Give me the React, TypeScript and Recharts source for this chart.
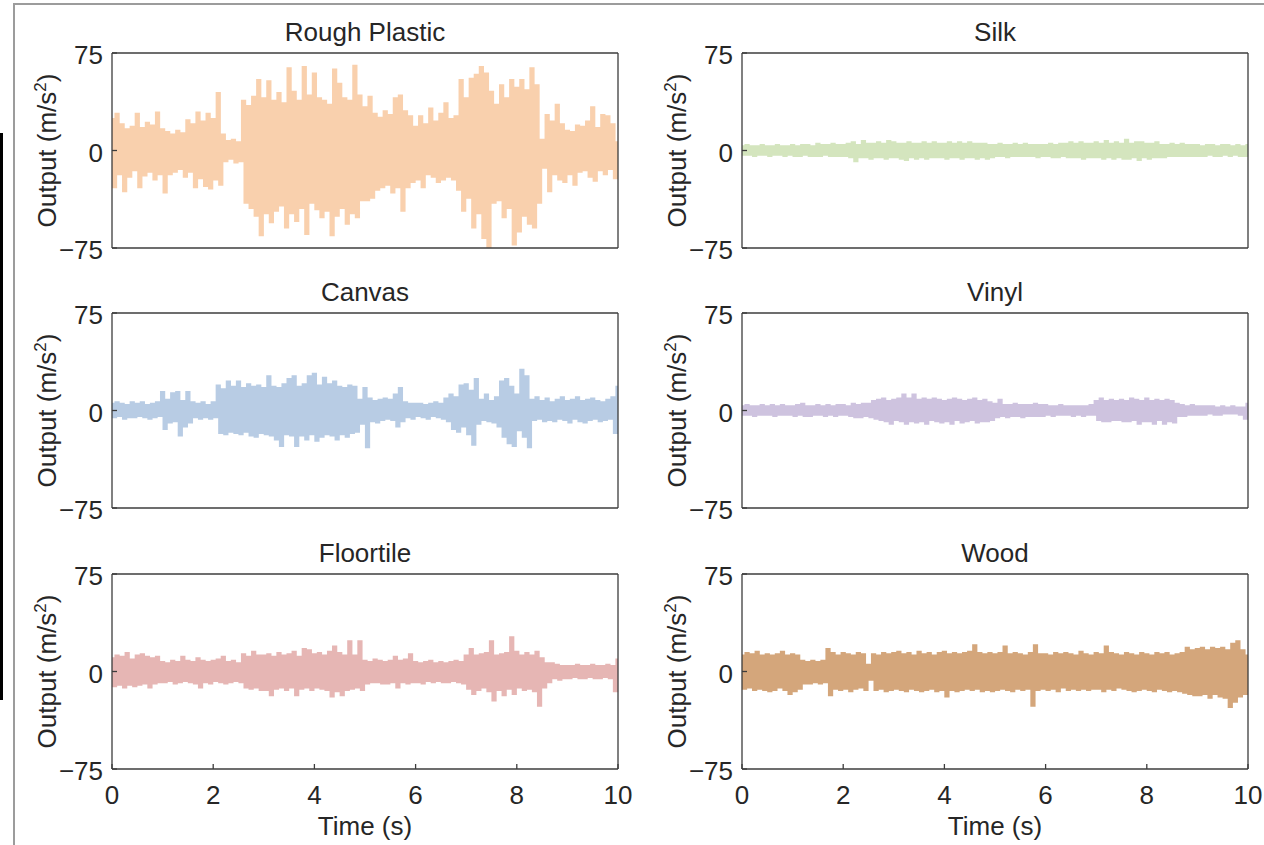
import React from 'react';
import { LineChart, Line, XAxis, YAxis } from 'recharts';

// ---- axes ----
const xTicks = [0, 2, 4, 6, 8, 10];
const yTicks = [-75, 0, 75];
const duration = 10; // seconds, samples evenly spaced over [0, 10]

// ---- series (m/s^2), one sample every 0.05 s ----
const roughPlastic = [
  24, -28, 28, -18, 20, -31, 16, -20, 18, -15, 28, -28, 17, -19, 21, -16, 19, -22, 29, -18,
  16, -32, 14, -18, 12, -16, 15, -14, 13, -20, 23, -16, 20, -28, 29, -21, 22, -27, 28, -29,
  24, -22, 44, -26, 12, -8, 7, -6, 8, -9, 6, -8, 38, -40, 34, -44, 41, -50, 54, -65,
  40, -48, 53, -55, 38, -46, 44, -42, 36, -59, 63, -48, 45, -54, 38, -44, 64, -64, 42, -40,
  59, -45, 40, -51, 38, -46, 35, -65, 62, -50, 51, -44, 40, -56, 38, -48, 65, -51, 42, -38,
  33, -38, 41, -36, 28, -30, 25, -28, 30, -26, 27, -32, 40, -28, 42, -46, 30, -28, 26, -24,
  18, -22, 26, -28, 20, -18, 32, -20, 22, -24, 28, -22, 36, -20, 24, -22, 26, -30, 54, -46,
  40, -36, 55, -59, 58, -48, 64, -67, 59, -74, 45, -40, 35, -38, 50, -51, 40, -44, 54, -72,
  48, -62, 54, -50, 46, -56, 63, -59, 50, -40, 8, -13, 27, -31, 22, -18, 35, -22, 20, -24,
  15, -18, 14, -26, 19, -16, 18, -15, 22, -20, 33, -23, 17, -15, 27, -18, 26, -14, 20, -21,
  6,
];

const silk = [
  3, -3, 4, -3, 3, -4, 3, -3, 4, -3, 3, -4, 3, -3, 4, -3, 3, -4, 3, -3,
  4, -4, 3, -4, 4, -3, 4, -4, 3, -4, 5, -4, 4, -3, 4, -4, 5, -4, 4, -4,
  4, -4, 5, -5, 6, -8, 4, -5, 7, -5, 5, -6, 5, -5, 6, -5, 5, -6, 7, -5,
  6, -5, 5, -6, 5, -7, 6, -5, 5, -6, 5, -5, 6, -6, 5, -5, 6, -5, 5, -5,
  5, -6, 6, -5, 5, -5, 6, -6, 5, -5, 6, -5, 5, -6, 5, -5, 5, -6, 4, -5,
  4, -4, 5, -4, 4, -5, 4, -4, 5, -4, 4, -4, 5, -4, 4, -4, 4, -5, 4, -4,
  4, -4, 5, -5, 4, -5, 5, -4, 5, -5, 6, -5, 5, -5, 6, -6, 5, -5, 5, -5,
  6, -5, 5, -6, 7, -5, 5, -6, 6, -5, 5, -6, 8, -6, 5, -5, 6, -7, 6, -5,
  5, -6, 5, -5, 6, -5, 4, -5, 4, -4, 5, -4, 4, -4, 5, -4, 4, -4, 4, -4,
  4, -4, 3, -4, 4, -3, 4, -4, 3, -4, 4, -3, 4, -4, 3, -3, 4, -4, 3, -4,
  4,
];

const canvas = [
  5, -5, 6, -4, 5, -6, 4, -5, 6, -5, 5, -4, 6, -5, 4, -6, 5, -5, 6, -4,
  14, -14, 8, -9, 13, -8, 14, -19, 7, -12, 14, -9, 6, -5, 5, -6, 6, -5, 4, -6,
  6, -5, 19, -17, 16, -18, 22, -16, 18, -17, 22, -18, 17, -16, 20, -19, 18, -20, 19, -17,
  17, -18, 26, -19, 18, -22, 17, -27, 20, -18, 24, -19, 26, -27, 18, -19, 20, -22, 26, -18,
  28, -23, 19, -20, 25, -18, 20, -19, 22, -22, 18, -18, 17, -20, 19, -17, 18, -16, 8, -10,
  17, -28, 9, -8, 7, -9, 8, -7, 9, -6, 8, -7, 12, -12, 17, -8, 6, -5, 5, -6,
  5, -4, 5, -5, 4, -6, 5, -4, 6, -5, 5, -6, 9, -8, 12, -14, 10, -16, 19, -12,
  20, -18, 15, -26, 24, -10, 8, -7, 12, -8, 7, -9, 10, -12, 22, -20, 24, -25, 18, -27,
  12, -15, 31, -20, 26, -28, 8, -7, 10, -6, 7, -8, 9, -7, 6, -8, 8, -6, 10, -7,
  7, -9, 8, -6, 10, -8, 7, -9, 8, -7, 9, -6, 7, -8, 6, -7, 8, -6, 10, -17,
  18,
];

const vinyl = [
  3, -3, 4, -3, 3, -4, 3, -3, 4, -3, 3, -3, 4, -4, 3, -3, 4, -3, 3, -3,
  3, -4, 4, -3, 5, -4, 3, -4, 3, -3, 4, -3, 3, -4, 4, -3, 3, -4, 4, -3,
  4, -3, 3, -4, 5, -5, 4, -5, 5, -4, 5, -5, 7, -6, 8, -7, 9, -8, 7, -10,
  8, -7, 9, -8, 12, -10, 9, -8, 12, -9, 8, -8, 9, -10, 8, -7, 9, -8, 8, -9,
  7, -8, 8, -10, 9, -7, 8, -9, 7, -8, 8, -7, 9, -9, 7, -8, 8, -8, 6, -7,
  5, -5, 8, -4, 4, -5, 4, -4, 5, -4, 4, -5, 4, -4, 4, -4, 5, -4, 4, -4,
  4, -3, 3, -4, 3, -3, 4, -3, 3, -3, 3, -4, 3, -3, 3, -4, 3, -3, 4, -3,
  7, -7, 9, -8, 7, -8, 8, -7, 7, -7, 8, -8, 7, -8, 9, -7, 8, -10, 7, -8,
  9, -8, 7, -10, 8, -7, 7, -10, 8, -8, 7, -9, 5, -4, 4, -4, 3, -3, 4, -3,
  3, -3, 3, -3, 3, -2, 3, -3, 2, -3, 3, -2, 2, -2, 3, -2, 2, -3, 2, -6,
  5,
];

const floortile = [
  10, -11, 12, -10, 11, -12, 14, -10, 9, -11, 12, -10, 13, -9, 11, -12, 10, -9, 11, -8,
  7, -8, 6, -7, 8, -9, 7, -8, 11, -7, 8, -8, 7, -9, 10, -12, 8, -8, 7, -9,
  8, -7, 9, -8, 11, -9, 7, -8, 8, -7, 6, -8, 13, -12, 11, -13, 15, -12, 12, -14,
  12, -14, 13, -18, 11, -13, 14, -12, 12, -14, 13, -12, 15, -18, 11, -13, 17, -12, 16, -14,
  13, -12, 14, -13, 12, -14, 15, -19, 19, -15, 14, -18, 12, -14, 23, -13, 12, -12, 23, -14,
  8, -9, 7, -8, 9, -8, 8, -9, 7, -9, 8, -8, 11, -12, 8, -8, 9, -9, 13, -8,
  7, -8, 6, -9, 7, -7, 8, -8, 6, -7, 7, -8, 6, -8, 7, -7, 8, -8, 7, -9,
  12, -13, 17, -17, 12, -14, 13, -12, 14, -15, 23, -22, 12, -14, 13, -18, 14, -13, 26, -17,
  15, -12, 12, -14, 14, -13, 12, -15, 15, -26, 10, -12, 6, -8, 6, -5, 5, -6, 4, -5,
  4, -5, 4, -4, 5, -5, 4, -5, 4, -4, 5, -5, 4, -5, 4, -4, 5, -5, 4, -15,
  9,
];

const wood = [
  12, -13, 14, -12, 13, -14, 15, -13, 12, -14, 13, -15, 12, -14, 13, -12, 15, -14, 12, -17,
  13, -15, 12, -13, 8, -9, 7, -9, 8, -8, 7, -9, 8, -8, 17, -18, 14, -13, 12, -14,
  14, -13, 13, -15, 12, -13, 14, -12, 13, -14, 5, -6, 13, -14, 12, -13, 14, -15, 13, -14,
  14, -13, 15, -14, 13, -15, 14, -13, 12, -14, 15, -15, 13, -14, 14, -13, 12, -15, 14, -14,
  15, -19, 13, -14, 14, -15, 13, -14, 14, -13, 15, -14, 20, -13, 14, -15, 13, -14, 14, -15,
  13, -14, 14, -13, 19, -14, 13, -15, 14, -13, 13, -14, 12, -13, 14, -26, 20, -14, 13, -13,
  13, -14, 12, -13, 14, -15, 13, -12, 14, -14, 13, -13, 12, -14, 15, -13, 13, -14, 12, -13,
  14, -13, 13, -15, 19, -13, 14, -14, 13, -12, 12, -13, 14, -14, 13, -15, 12, -14, 14, -13,
  13, -14, 12, -15, 14, -13, 13, -14, 14, -15, 12, -14, 13, -15, 14, -16, 18, -17, 16, -18,
  17, -18, 18, -17, 16, -20, 18, -17, 17, -19, 18, -20, 16, -27, 21, -23, 23, -19, 16, -17,
  12,
];

// ---- styling ----
const AXIS = '#3c3c3c';
const TEXT = '#262626';
const FONT = '"Liberation Sans", Arial, Helvetica, sans-serif';
const FS = 26;

const fmtY = (v: number) => (v < 0 ? '\u2212' + Math.abs(v) : String(v));

type PanelProps = {
  title: string;
  values: number[];
  color: string;
  left: number;
  top: number;
  showX: boolean;
};

function Panel({ title, values, color, left, top, showX }: PanelProps) {
  const data = values.map((v, i) => ({ t: (i * duration) / (values.length - 1), v }));
  const axisLine = { stroke: AXIS, strokeWidth: 1.3 };
  const tickFont = { fill: TEXT, fontSize: FS, fontFamily: FONT };

  const titleLabel = (p: any) => {
    const vb = p.viewBox || {};
    return (
      <text x={vb.x + vb.width / 2} y={vb.y + (vb.height || 0) - 12} textAnchor="middle" fill={TEXT} fontSize={FS} fontFamily={FONT}>
        {title}
      </text>
    );
  };
  const timeLabel = (p: any) => {
    const vb = p.viewBox || {};
    return (
      <text x={vb.x + vb.width / 2} y={vb.y + 66} textAnchor="middle" fill={TEXT} fontSize={FS} fontFamily={FONT}>
        Time (s)
      </text>
    );
  };
  const yLabel = (p: any) => {
    const vb = p.viewBox || {};
    const cx = vb.x + 4;
    const cy = vb.y + vb.height / 2;
    return (
      <text x={cx} y={cy} transform={`rotate(-90, ${cx}, ${cy})`} textAnchor="middle" fill={TEXT} fontSize={FS} fontFamily={FONT}>
        Output (m/s<tspan dy={-10} fontSize={17}>2</tspan><tspan dy={10}>)</tspan>
      </text>
    );
  };

  return (
    <div style={{ position: 'absolute', left, top }}>
      <LineChart width={618} height={315} data={data} margin={{ top: 44, right: 19, bottom: 45, left: 32 }}>
        <XAxis
          dataKey="t"
          type="number"
          domain={[0, 10]}
          ticks={xTicks}
          interval={0}
          height={30}
          tickSize={-5}
          tickMargin={22}
          axisLine={axisLine}
          tickLine={axisLine}
          tick={showX ? tickFont : false}
          label={showX ? timeLabel : undefined}
        />
        <XAxis
          xAxisId="top"
          orientation="top"
          dataKey="t"
          type="number"
          domain={[0, 10]}
          ticks={xTicks}
          interval={0}
          height={1}
          tickSize={-5}
          axisLine={axisLine}
          tickLine={axisLine}
          tick={false}
          label={titleLabel}
        />
        <YAxis
          type="number"
          domain={[-75, 75]}
          ticks={yTicks}
          interval={0}
          width={60}
          tickSize={-5}
          tickMargin={14}
          axisLine={axisLine}
          tickLine={axisLine}
          tick={{ ...tickFont, dy: 2 }}
          tickFormatter={fmtY}
          label={yLabel}
        />
        <YAxis
          yAxisId="right"
          orientation="right"
          type="number"
          domain={[-75, 75]}
          ticks={yTicks}
          interval={0}
          width={1}
          tickSize={-5}
          axisLine={axisLine}
          tickLine={axisLine}
          tick={false}
        />
        <Line
          xAxisId="top"
          yAxisId="right"
          dataKey="v"
          type="linear"
          stroke="none"
          strokeWidth={0}
          dot={false}
          activeDot={false}
          legendType="none"
          isAnimationActive={false}
        />
        <Line
          dataKey="v"
          type="step"
          stroke={color}
          strokeWidth={2.7}
          strokeLinejoin="miter"
          strokeLinecap="butt"
          dot={false}
          activeDot={false}
          isAnimationActive={false}
        />
      </LineChart>
    </div>
  );
}

const panels = [
  { title: 'Rough Plastic', values: roughPlastic, color: '#F9D0AD', left: 20, top: 8, showX: false },
  { title: 'Silk', values: silk, color: '#D4E5BE', left: 650, top: 8, showX: false },
  { title: 'Canvas', values: canvas, color: '#B8CCE4', left: 20, top: 268, showX: false },
  { title: 'Vinyl', values: vinyl, color: '#CEC3DF', left: 650, top: 268, showX: false },
  { title: 'Floortile', values: floortile, color: '#E6B6B4', left: 20, top: 529, showX: true },
  { title: 'Wood', values: wood, color: '#D4A67B', left: 650, top: 529, showX: true },
];

export default function App() {
  return (
    <div
      style={{
        position: 'absolute',
        left: 0,
        top: 0,
        width: 1264,
        height: 845,
        background: '#ffffff',
        overflow: 'hidden',
        fontFamily: FONT,
      }}
    >
      <div style={{ position: 'absolute', left: 13, top: 3, width: 1251, height: 2, background: '#9c9c9c' }} />
      <div style={{ position: 'absolute', left: 13, top: 3, width: 2, height: 842, background: '#9c9c9c' }} />
      <div style={{ position: 'absolute', left: 0, top: 133, width: 3, height: 567, background: '#000000' }} />
      {panels.map((p) => (
        <Panel key={p.title} {...p} />
      ))}
    </div>
  );
}
